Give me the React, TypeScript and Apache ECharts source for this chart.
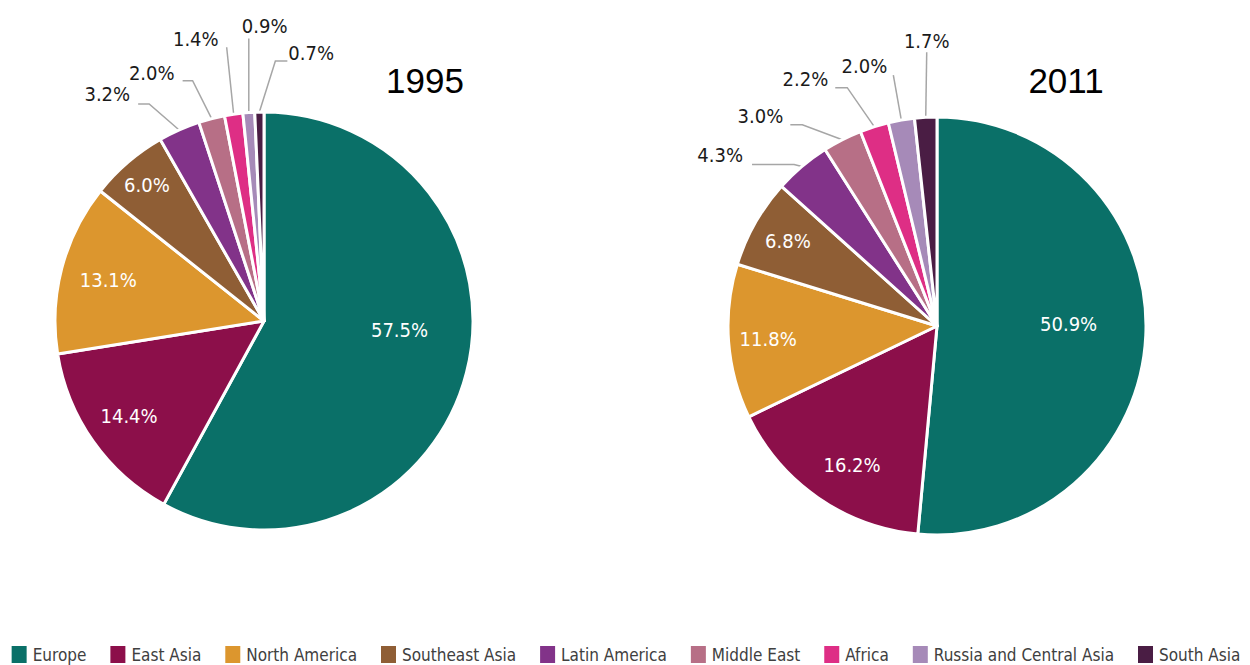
import React, { useEffect, useRef } from 'react';
import * as echarts from 'echarts';

// ---------- data ----------
const regions = [
  'Europe',
  'East Asia',
  'North America',
  'Southeast Asia',
  'Latin America',
  'Middle East',
  'Africa',
  'Russia and Central Asia',
  'South Asia',
];
const years = ['1995', '2011'];
const values1995 = [57.5, 14.4, 13.1, 6.0, 3.2, 2.0, 1.4, 0.9, 0.7];
const values2011 = [50.9, 16.2, 11.8, 6.8, 4.3, 3.0, 2.2, 2.0, 1.7];
const seriesValues = [values1995, values2011];

// ---------- styles / layout ----------
const colors = ['#0a7068', '#8c0f4a', '#dc962e', '#8f5e35', '#823389', '#b76f86', '#de2e85', '#a68ab8', '#4a1d44'];
const NARROW = "'Liberation Sans Narrow', 'DejaVu Sans Condensed', 'Liberation Sans', sans-serif";
const TITLE_FONT = "'Liberation Sans', 'DejaVu Sans', sans-serif";
const PIE_R = 209;
const centers: [number, number][] = [
  [264, 321],
  [937, 326],
];
const titlePos: [number, number][] = [
  [425, 80],
  [1066, 80],
];
const INSIDE_COUNT = 4;
// [radius fraction, optional angle in degrees clockwise from top]
const insideLabel: [number, number | null][][] = [
  [[0.65, 94], [0.79, null], [0.77, null], [0.86, null]],
  [[0.63, 89], [0.78, 211.4], [0.81, null], [0.82, null]],
];
// [elbow dx, elbow dy, horizontal leg, align, gap, lift]
type OutCfg = [number, number, number, 'left' | 'right' | 'center', number, number];
const outsideLabel: OutCfg[][] = [
  [
    [-30, -26, -11, 'right', 8, 0],
    [-19, -38, -10, 'right', 8, 2],
    [-7, -67, 0, 'right', 8, 2],
    [0, -74, 0, 'left', -7, -3],
    [16, -51, 12, 'left', 1, 2],
  ],
  [
    [-8, -2, -42, 'right', 9, 1],
    [-40, -15, -12, 'right', 7, 1],
    [-27, -39, -12, 'right', 7, 1],
    [-8, -45, 0, 'right', 6, 1],
    [1, -65, 0, 'center', 0, -1],
  ],
];

function makeLayout(s: number) {
  return (params: any) => {
    const i = params.dataIndex;
    const vals = seriesValues[s];
    const total = vals.reduce((a, b) => a + b, 0);
    let before = 0;
    for (let k = 0; k < i; k++) before += vals[k];
    const mid = ((before + vals[i] / 2) / total) * 360;
    const [cx, cy] = centers[s];
    if (i < INSIDE_COUNT) {
      const [f, ang] = insideLabel[s][i];
      const a = ((ang ?? mid) * Math.PI) / 180;
      return {
        x: cx + Math.sin(a) * PIE_R * f,
        y: cy - Math.cos(a) * PIE_R * f,
        align: 'center',
        verticalAlign: 'middle',
      };
    }
    const [dx, dy, h, align, gap, lift] = outsideLabel[s][i - INSIDE_COUNT];
    const a = (mid * Math.PI) / 180;
    const p0 = [cx + Math.sin(a) * PIE_R, cy - Math.cos(a) * PIE_R];
    const p1 = [p0[0] + dx, p0[1] + dy];
    const p2 = [p1[0] + h, p1[1]];
    const x = align === 'right' ? p2[0] - gap : p2[0] + gap;
    return {
      x,
      y: p2[1] + lift,
      align,
      verticalAlign: 'bottom',
      labelLinePoints: [p0, p1, p2],
    };
  };
}

function buildSeries(s: number) {
  return {
    type: 'pie',
    name: years[s],
    center: centers[s],
    radius: [0, PIE_R],
    startAngle: 90,
    clockwise: true,
    avoidLabelOverlap: false,
    itemStyle: { borderColor: '#ffffff', borderWidth: 3 },
    label: {
      show: true,
      formatter: (p: any) => p.value.toFixed(1) + '%',
      fontFamily: NARROW,
      fontSize: 20,
      color: '#1a1a1a',
    },
    labelLine: { show: true, lineStyle: { color: '#a6a6a6', width: 1.5 } },
    labelLayout: makeLayout(s),
    emphasis: { disabled: true },
    data: seriesValues[s].map((v, i) => ({
      name: regions[i],
      value: v,
      itemStyle: { color: colors[i] },
      label: i < INSIDE_COUNT ? { position: 'inside', color: '#ffffff' } : { position: 'outside' },
      labelLine: { show: i >= INSIDE_COUNT },
    })),
  };
}

export default function App() {
  const ref = useRef<HTMLDivElement>(null);
  useEffect(() => {
    document.body.style.margin = '0';
    const chart = echarts.init(ref.current!, undefined, { renderer: 'svg' });
    chart.setOption({
      animation: false,
      backgroundColor: '#ffffff',
      graphic: years.map((y, s) => ({
        type: 'text',
        x: titlePos[s][0],
        y: titlePos[s][1],
        style: {
          text: y,
          fontFamily: TITLE_FONT,
          fontSize: 35,
          fill: '#000000',
          align: 'center',
          verticalAlign: 'middle',
        },
      })),
      legend: {
        top: 644,
        left: 'center',
        width: 1250,
        icon: 'rect',
        itemWidth: 17,
        itemHeight: 19,
        itemGap: 22,
        padding: 0,
        data: regions,
        textStyle: { fontFamily: NARROW, fontSize: 17, color: '#404040' },
      },
      series: [buildSeries(0), buildSeries(1)],
    });
    return () => chart.dispose();
  }, []);
  return <div ref={ref} style={{ position: 'absolute', left: 0, top: 0, width: 1250, height: 665 }} />;
}
